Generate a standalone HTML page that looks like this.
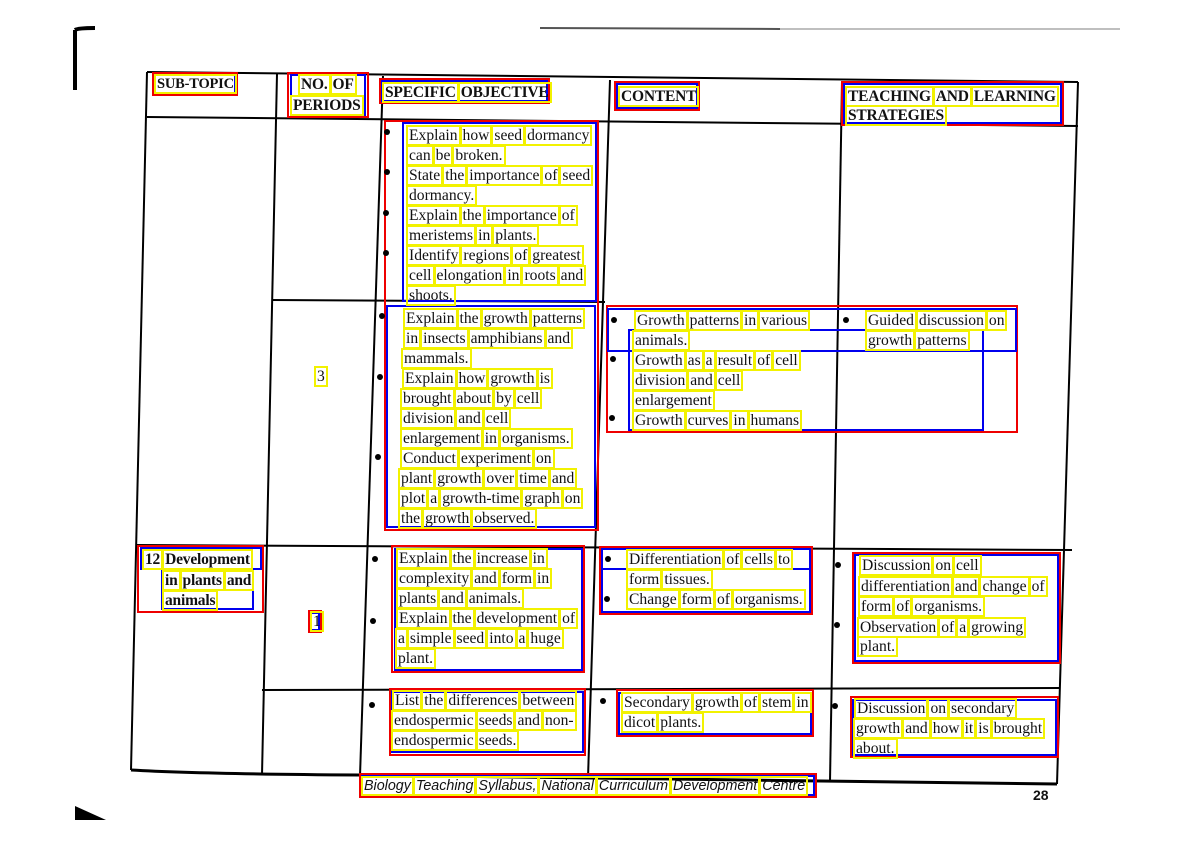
<!DOCTYPE html>
<html><head><meta charset="utf-8">
<style>
html,body{margin:0;padding:0;background:#fff;}
#p{position:relative;width:1200px;height:848px;overflow:hidden;background:#fff;font-family:"Liberation Serif",serif;font-size:15.6px;color:#111;}
.l{position:absolute;white-space:nowrap;line-height:17px;}
.l span{outline:2px solid #f2f200;outline-offset:0px;padding:0 1px;margin-right:3px;}
.h{font-weight:bold;font-size:15.5px;letter-spacing:-0.2px;}
.b{position:absolute;width:6px;height:6px;border-radius:50%;background:#000;}
.f{font-family:"Liberation Sans",sans-serif;font-style:italic;font-size:14.3px;}
svg{position:absolute;left:0;top:0;}
</style></head><body><div id="p">
<svg width="1200" height="848">
<path d="M75 30 L75 90 M75 30 Q78 28 95 28" stroke="#000" stroke-width="4" fill="none"/>
<line x1="540" y1="28" x2="780" y2="29" stroke="#555" stroke-width="2"/>
<line x1="780" y1="29" x2="1120" y2="29" stroke="#aaa" stroke-width="1.5"/>
<polygon points="75,806 75,820 106,820" fill="#000"/>
<g stroke="#000" fill="none" stroke-width="2">
<path d="M147 72 L1078 82"/>
<path d="M147 72 L131 770"/>
<path d="M1078 82 L1057 784"/>
<path d="M131 770 Q200 774 360 775 L1057 784" stroke-width="3"/>
<path d="M147 117 L1078 126"/>
<path d="M277 74 L262 775"/>
<path d="M383 76 L360 776"/>
<path d="M610 80 L588 778"/>
<path d="M842 82 L830 781"/>
<path d="M272 300 L605 302"/>
<path d="M137 545 L1072 550" stroke-width="2"/>
<path d="M262 690 L1060 688"/>
</g>
<g fill="none" stroke-width="2">
<g stroke="#e00">
<rect x="153" y="73" width="84" height="22"/>
<rect x="288" y="73" width="80" height="44"/>
<rect x="380" y="79" width="169" height="24"/>
<rect x="615" y="82" width="84" height="28"/>
<rect x="842" y="82" width="221" height="43"/>
<rect x="385" y="121" width="213" height="409"/>
<rect x="607" y="306" width="410" height="126"/>
<rect x="138" y="546" width="125" height="66"/>
<rect x="309" y="611" width="12" height="21"/>
<rect x="392" y="546" width="192" height="126"/>
<rect x="600" y="547" width="212" height="67"/>
<rect x="853" y="553" width="207" height="110"/>
<rect x="390" y="689" width="195" height="66"/>
<rect x="617" y="690" width="196" height="46"/>
<rect x="851" y="697" width="207" height="60"/>
<rect x="360" y="774" width="456" height="23"/>
</g>
<g stroke="#00e">
<rect x="155" y="75" width="80" height="18"/>
<rect x="291" y="75" width="74" height="40"/>
<rect x="382" y="81" width="165" height="20"/>
<rect x="617" y="84" width="80" height="24"/>
<rect x="844" y="84" width="217" height="39"/>
<rect x="403" y="123" width="193" height="178"/>
<rect x="387" y="306" width="208" height="221"/>
<rect x="608" y="309" width="408" height="42"/>
<rect x="629" y="330" width="354" height="100"/>
<rect x="141" y="548" width="120" height="21"/>
<rect x="162" y="569" width="91" height="40"/>
<rect x="311" y="613" width="8" height="17"/>
<rect x="395" y="549" width="187" height="121"/>
<rect x="602" y="549" width="208" height="20"/>
<rect x="602" y="569" width="208" height="43"/>
<rect x="855" y="555" width="203" height="106"/>
<rect x="392" y="692" width="191" height="60"/>
<rect x="619" y="693" width="192" height="41"/>
<rect x="853" y="700" width="203" height="55"/>
<rect x="362" y="776" width="452" height="19"/>
</g>
</g>
</svg>

<div class="l h" style="left:156px;top:76px;font-size:14.5px">SUB-TOPIC</div>
<div class="l h" style="left:300px;top:76px">NO. OF</div>
<div class="l h" style="left:292px;top:97px">PERIODS</div>
<div class="l h" style="left:384px;top:84px">SPECIFIC OBJECTIVE</div>
<div class="l h" style="left:620px;top:88px">CONTENT</div>
<div class="l h" style="left:847px;top:88px">TEACHING AND LEARNING</div>
<div class="l h" style="left:847px;top:107px">STRATEGIES</div>

<div class="b" style="left:384px;top:129px"></div>
<div class="b" style="left:384px;top:169px"></div>
<div class="b" style="left:383px;top:210px"></div>
<div class="b" style="left:383px;top:250px"></div>
<div class="l" style="left:408px;top:127px">Explain how seed dormancy</div>
<div class="l" style="left:408px;top:147px">can be broken.</div>
<div class="l" style="left:408px;top:167px">State the importance of seed</div>
<div class="l" style="left:408px;top:187px">dormancy.</div>
<div class="l" style="left:408px;top:207px">Explain the importance of</div>
<div class="l" style="left:408px;top:227px">meristems in plants.</div>
<div class="l" style="left:408px;top:247px">Identify regions of greatest</div>
<div class="l" style="left:408px;top:267px">cell elongation in roots and</div>
<div class="l" style="left:408px;top:287px">shoots.</div>

<div class="l" style="left:316px;top:368px">3</div>
<div class="b" style="left:379px;top:313px"></div>
<div class="b" style="left:377px;top:374px"></div>
<div class="b" style="left:375px;top:454px"></div>
<div class="l" style="left:405px;top:310px">Explain the growth patterns</div>
<div class="l" style="left:405px;top:330px">in insects amphibians and</div>
<div class="l" style="left:403px;top:350px">mammals.</div>
<div class="l" style="left:404px;top:370px">Explain how growth is</div>
<div class="l" style="left:402px;top:390px">brought about by cell</div>
<div class="l" style="left:402px;top:410px">division and cell</div>
<div class="l" style="left:402px;top:430px">enlargement in organisms.</div>
<div class="l" style="left:402px;top:450px">Conduct experiment on</div>
<div class="l" style="left:400px;top:470px">plant growth over time and</div>
<div class="l" style="left:400px;top:490px">plot a growth-time graph on</div>
<div class="l" style="left:400px;top:510px">the growth observed.</div>

<div class="b" style="left:611px;top:317px"></div>
<div class="b" style="left:610px;top:356px"></div>
<div class="b" style="left:609px;top:415px"></div>
<div class="l" style="left:636px;top:312px">Growth patterns in various</div>
<div class="l" style="left:634px;top:332px">animals.</div>
<div class="l" style="left:634px;top:352px">Growth as a result of cell</div>
<div class="l" style="left:634px;top:372px">division and cell</div>
<div class="l" style="left:634px;top:392px">enlargement</div>
<div class="l" style="left:634px;top:412px">Growth curves in humans</div>
<div class="b" style="left:843px;top:317px"></div>
<div class="l" style="left:867px;top:312px">Guided discussion on</div>
<div class="l" style="left:867px;top:332px">growth patterns</div>

<div class="l h" style="left:144px;top:551px">12 Development</div>
<div class="l h" style="left:164px;top:572px">in plants and</div>
<div class="l h" style="left:164px;top:592px">animals</div>
<div class="l" style="left:312px;top:613px">1</div>
<div class="b" style="left:372px;top:556px"></div>
<div class="b" style="left:370px;top:618px"></div>
<div class="l" style="left:398px;top:550px">Explain the increase in</div>
<div class="l" style="left:398px;top:570px">complexity and form in</div>
<div class="l" style="left:398px;top:590px">plants and animals.</div>
<div class="l" style="left:398px;top:610px">Explain the development of</div>
<div class="l" style="left:397px;top:630px">a simple seed into a huge</div>
<div class="l" style="left:397px;top:650px">plant.</div>
<div class="b" style="left:605px;top:556px"></div>
<div class="b" style="left:604px;top:596px"></div>
<div class="l" style="left:628px;top:551px">Differentiation of cells to</div>
<div class="l" style="left:628px;top:571px">form tissues.</div>
<div class="l" style="left:628px;top:591px">Change form of organisms.</div>
<div class="b" style="left:835px;top:562px"></div>
<div class="b" style="left:834px;top:622px"></div>
<div class="l" style="left:861px;top:557px">Discussion on cell</div>
<div class="l" style="left:860px;top:578px">differentiation and change of</div>
<div class="l" style="left:860px;top:598px">form of organisms.</div>
<div class="l" style="left:859px;top:619px">Observation of a growing</div>
<div class="l" style="left:859px;top:638px">plant.</div>

<div class="b" style="left:369px;top:702px"></div>
<div class="l" style="left:394px;top:692px">List the differences between</div>
<div class="l" style="left:393px;top:712px">endospermic seeds and non-</div>
<div class="l" style="left:393px;top:732px">endospermic seeds.</div>
<div class="b" style="left:600px;top:698px"></div>
<div class="l" style="left:623px;top:694px">Secondary growth of stem in</div>
<div class="l" style="left:623px;top:714px">dicot plants.</div>
<div class="b" style="left:832px;top:703px"></div>
<div class="l" style="left:856px;top:700px">Discussion on secondary</div>
<div class="l" style="left:855px;top:720px">growth and how it is brought</div>
<div class="l" style="left:855px;top:740px">about.</div>

<div class="l f" style="left:363px;top:778px">Biology Teaching Syllabus, National Curriculum Development Centre</div>
<div class="l" style="left:1033px;top:787px;font-family:'Liberation Sans',sans-serif;font-weight:bold;font-size:14px">28</div>
</div>
<script>
document.querySelectorAll('.l').forEach(function(d){
 if(d.textContent.trim()==='28')return;
 var w=d.textContent.split(' ');
 d.innerHTML=w.map(function(x){return '<span>'+x+'</span>';}).join('');
});
</script>
</body></html>
